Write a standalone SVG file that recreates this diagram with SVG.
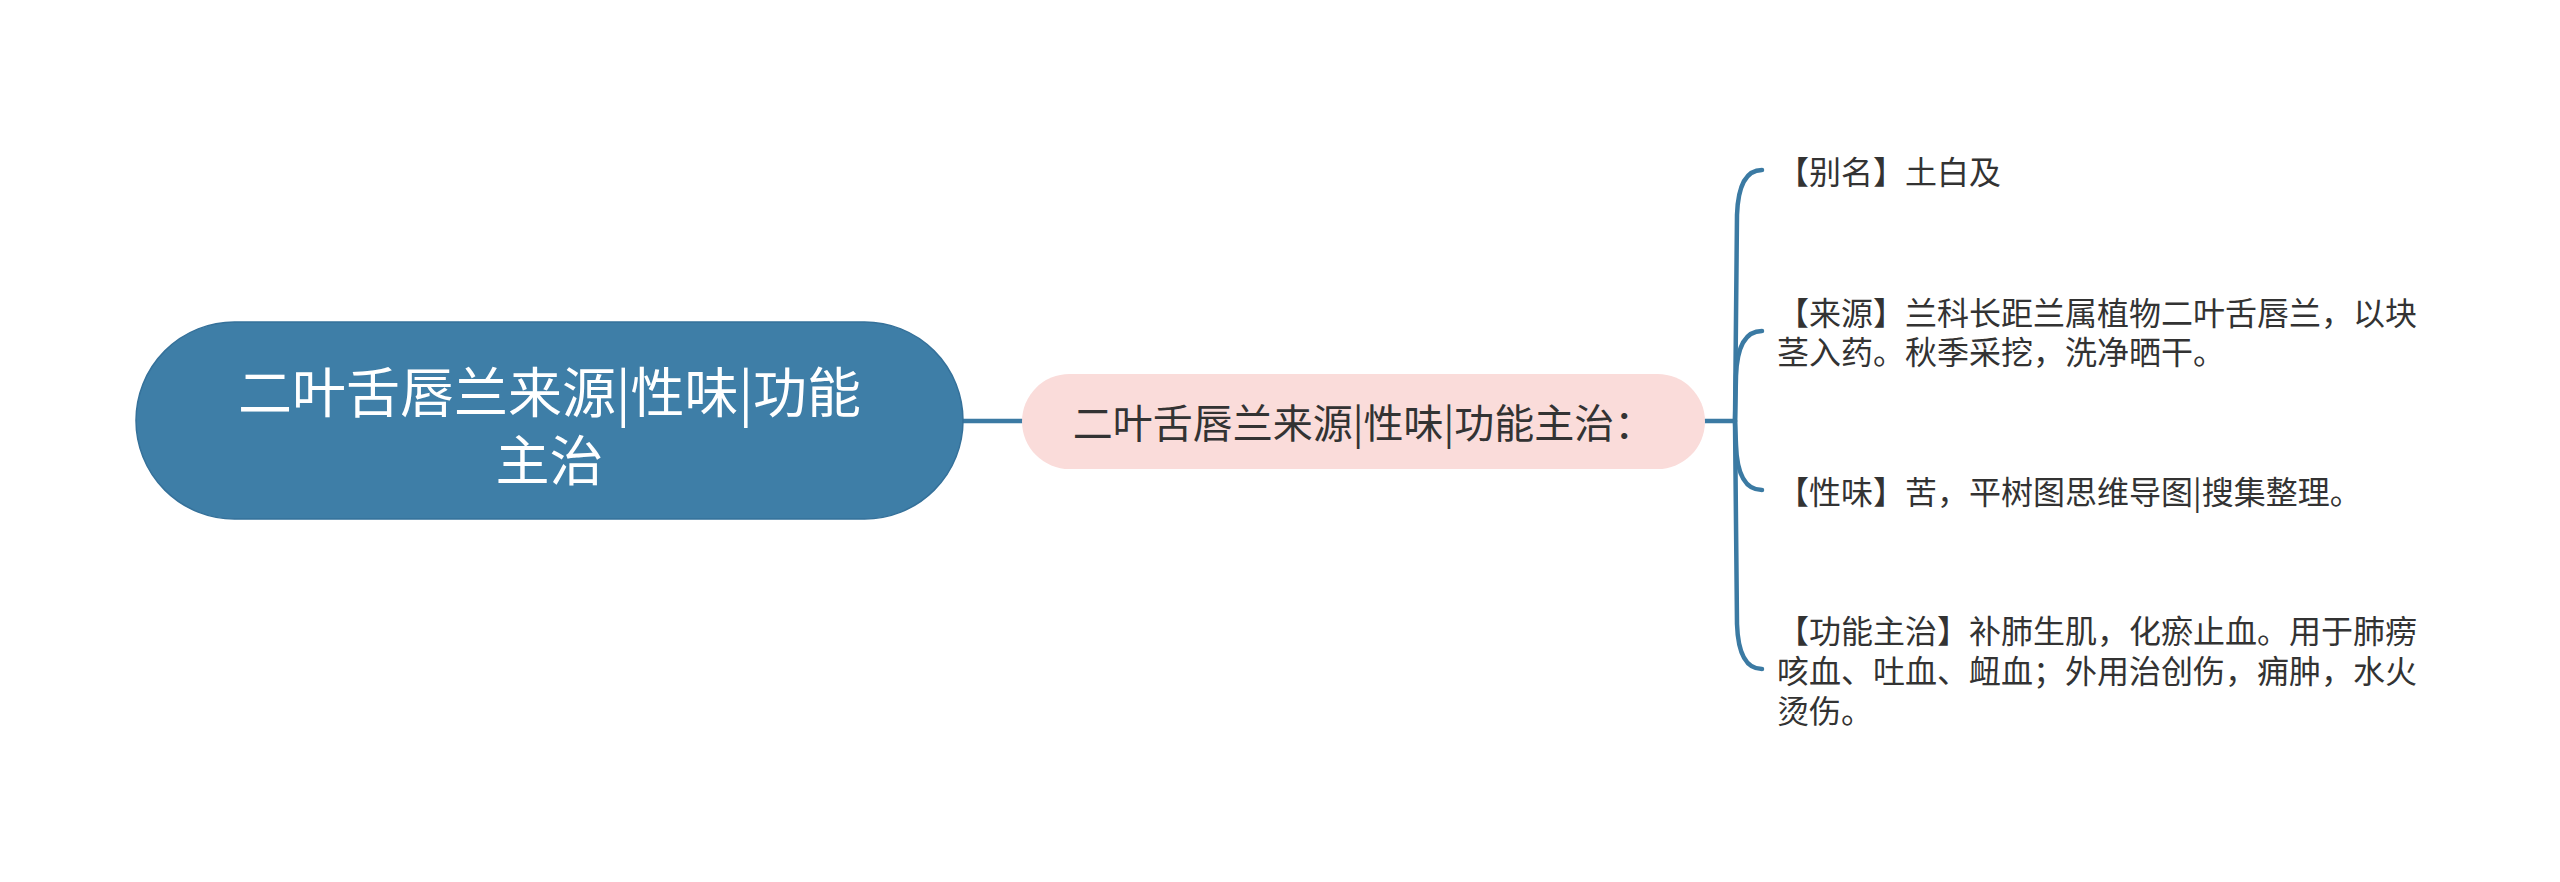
<svg xmlns="http://www.w3.org/2000/svg" width="2560" height="882" viewBox="0 0 2560 882">
  <style>
    .t { font-family: "Noto Sans CJK SC", "Noto Sans", sans-serif; dominant-baseline: central; }
    .root-t { fill: #ffffff; font-size: 54px; text-anchor: middle; }
    .mid-t { fill: #333333; font-size: 40px; text-anchor: middle; }
    .leaf-t { fill: #333333; font-size: 32px; }
    .conn { fill: none; stroke: #3b7aa3; stroke-width: 4.5; stroke-linecap: round; }
  </style>
  <rect x="0" y="0" width="2560" height="882" fill="#ffffff"/>
  <g id="connectors">
    <line class="conn" x1="963" y1="421" x2="1022" y2="421"/>
    <line class="conn" x1="1705" y1="421" x2="1735" y2="421"/>
    <path class="conn" d="M1735,421 L1737,215 C1738,185 1746,170 1762,170"/>
    <path class="conn" d="M1735,421 L1736,376 C1737,346 1746,331 1762,331"/>
    <path class="conn" d="M1735,421 L1736,445 C1737,475 1746,490 1762,490"/>
    <path class="conn" d="M1735,421 L1737,624 C1738,654 1746,669 1762,669"/>
  </g>
  <g id="root">
    <rect x="136" y="322" width="827" height="197" rx="98.5" ry="98.5" fill="#3e7ea7" stroke="#35719a" stroke-width="1.5"/>
    <text class="t root-t" x="549.5" y="389">二叶舌唇兰来源|性味|功能</text>
    <text class="t root-t" x="549.5" y="457">主治</text>
  </g>
  <g id="middle">
    <rect x="1022" y="374" width="683" height="95" rx="47.5" ry="47.5" fill="#fadcda"/>
    <text class="t mid-t" x="1363.5" y="421">二叶舌唇兰来源|性味|功能主治：</text>
  </g>
  <g id="leaf-alias">
    <text class="t leaf-t" x="1777" y="170">【别名】土白及</text>
  </g>
  <g id="leaf-source">
    <text class="t leaf-t" x="1777" y="311">【来源】兰科长距兰属植物二叶舌唇兰，以块</text>
    <text class="t leaf-t" x="1777" y="350">茎入药。秋季采挖，洗净晒干。</text>
  </g>
  <g id="leaf-taste">
    <text class="t leaf-t" x="1777" y="490">【性味】苦，平树图思维导图|搜集整理。</text>
  </g>
  <g id="leaf-function">
    <text class="t leaf-t" x="1777" y="629">【功能主治】补肺生肌，化瘀止血。用于肺痨</text>
    <text class="t leaf-t" x="1777" y="669">咳血、吐血、衄血；外用治创伤，痈肿，水火</text>
    <text class="t leaf-t" x="1777" y="709">烫伤。</text>
  </g>
</svg>
